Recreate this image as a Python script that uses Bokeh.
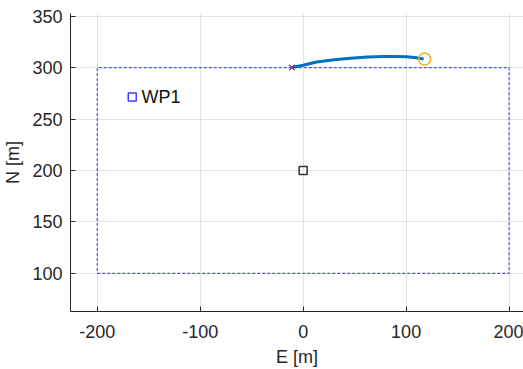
from bokeh.plotting import figure
from bokeh.embed import file_html
from bokeh.resources import INLINE
from bokeh.models import Range1d, FixedTicker, PrintfTickFormatter
from bokeh.core.properties import value

# data
rect_e = [-200, 200, 200, -200, -200]
rect_n = [100, 100, 300, 300, 100]
traj_e = [-11, 0, 13, 30, 46, 62, 78, 90, 101, 110, 117]
traj_n = [300, 302.3, 305.4, 307.6, 309.1, 310.2, 310.7, 310.8, 310.4, 309.5, 308.4]
start_e, start_n = [-11], [300]
end_e, end_n = [118], [308.3]
wp_e, wp_n = [-166], [271.5]
wp_label = ["WP1"]
center_e, center_n = [0], [200]
x_ticks = [-200, -100, 0, 100, 200]
y_ticks = [100, 150, 200, 250, 300, 350]

FONT = "Liberation Sans"
TXT = "#262626"

p = figure(width=523, height=369, output_backend="svg", toolbar_location=None,
           x_range=Range1d(-226, 214), y_range=Range1d(63, 352.5),
           min_border_left=70, min_border_right=0, min_border_top=13, min_border_bottom=57)
p.outline_line_color = None
p.background_fill_color = "white"

for ax in (p.xaxis[0], p.yaxis[0]):
    ax.major_label_text_font = FONT
    ax.major_label_text_font_size = "18px"
    ax.major_label_text_color = TXT
    ax.axis_label_text_font = FONT
    ax.axis_label_text_font_size = "18px"
    ax.axis_label_text_font_style = "normal"
    ax.axis_label_text_color = TXT
    ax.axis_line_color = "#262626"
    ax.major_tick_line_color = "#262626"
    ax.major_tick_in = 5
    ax.major_tick_out = 0
    ax.minor_tick_line_color = None
    ax.formatter = PrintfTickFormatter(format="%d")

p.xaxis.ticker = FixedTicker(ticks=x_ticks)
p.yaxis.ticker = FixedTicker(ticks=y_ticks)
p.xaxis.axis_label = "E [m]"
p.yaxis.axis_label = "N [m]"
p.xaxis.major_label_standoff = 13
p.yaxis.major_label_standoff = 8
p.xaxis.axis_label_standoff = 6
p.yaxis.axis_label_standoff = 6

p.grid.grid_line_color = "#e3e3e3"
p.grid.grid_line_width = 1

p.line(rect_e, rect_n, line_color="#3c3cff", line_alpha=0.9, line_width=1.2, line_dash="3 2")
p.line(traj_e, traj_n, line_color="#0072BD", line_width=3)
p.scatter(start_e, start_n, marker="x", size=8, line_color="#7E2F8E", line_width=1.2)
p.scatter(end_e, end_n, marker="circle", size=12, fill_color=None, line_color="#EDB120", line_width=1.5)
p.scatter(wp_e, wp_n, marker="square", size=8, fill_color=None, line_color="#4040ff", line_width=1.5)
p.text(x=[e + 9 for e in wp_e], y=wp_n, text=wp_label, text_font=value(FONT), text_font_size="18px",
       text_color="#111111", text_baseline="middle", text_align="left")
p.scatter(center_e, center_n, marker="square", size=8, fill_color=None, line_color="#333333", line_width=1.5)

open("out.html", "w").write(file_html(p, INLINE))
